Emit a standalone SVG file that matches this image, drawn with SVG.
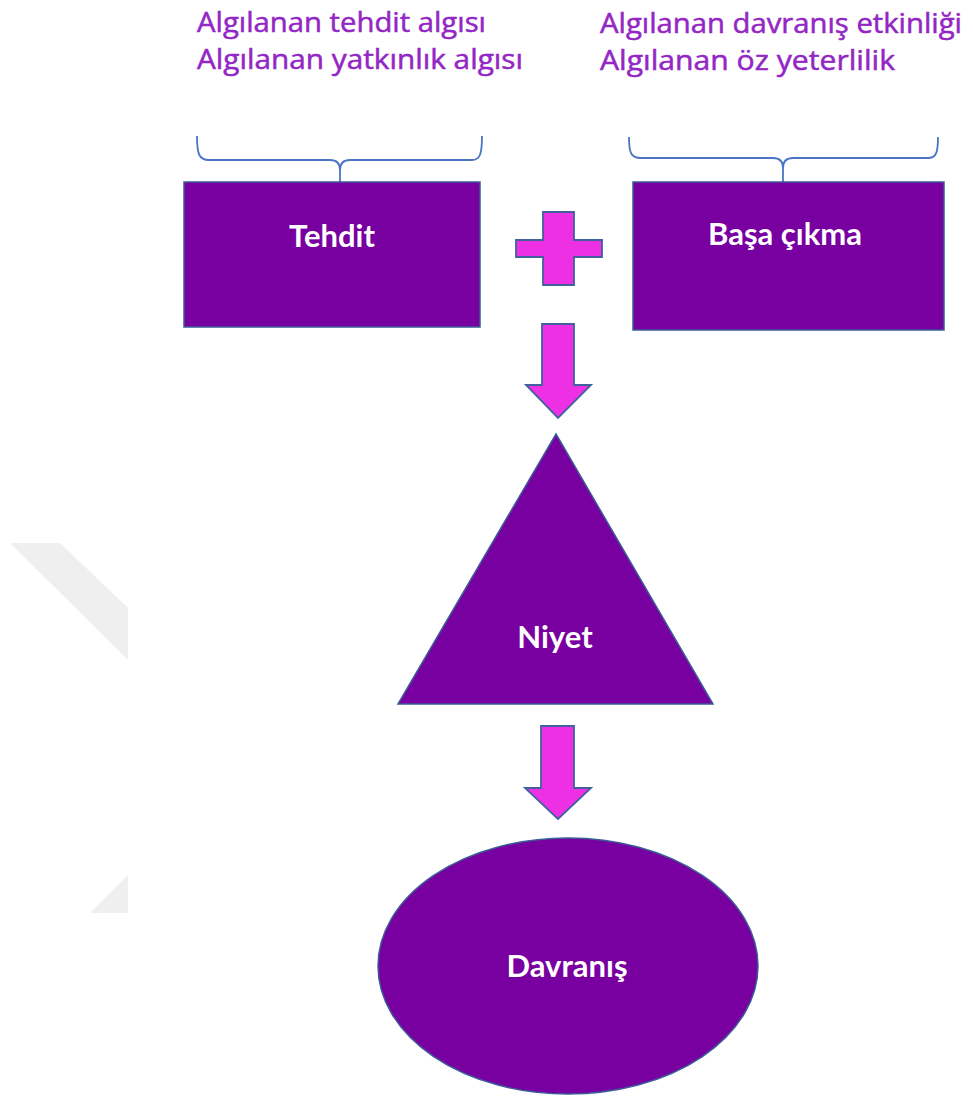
<svg xmlns="http://www.w3.org/2000/svg" width="973" height="1097" viewBox="0 0 973 1097">
  <style>
    .node { fill: #7800a0; stroke: #3c5a96; stroke-width: 1.5; }
    .label { fill: #ffffff; font-family: Lato, "Open Sans", "Liberation Sans", sans-serif; font-weight: bold; font-size: 31px; text-anchor: middle; }
    .attr { fill: #9326c4; stroke: #9326c4; stroke-width: 0.5; font-family: "Open Sans", "Liberation Sans", sans-serif; font-size: 27px; }
    .pink { fill: #ee30e4; stroke: #41609e; stroke-width: 1.8; stroke-linejoin: miter; }
    .brace { fill: none; stroke: #4a74c6; stroke-width: 1.8; }
    .wm { fill: #efefef; }
  </style>
  <rect width="973" height="1097" fill="#ffffff"/>
  <g id="watermark">
    <polygon class="wm" points="10,543 60,543 128,608 128,660"/>
    <polygon class="wm" points="90,913 128,875 128,913"/>
  </g>
  <g id="attributes-left">
    <text class="attr" x="197" y="32" textLength="289" lengthAdjust="spacingAndGlyphs">Algılanan tehdit algısı</text>
    <text class="attr" x="197" y="69" textLength="326" lengthAdjust="spacingAndGlyphs">Algılanan yatkınlık algısı</text>
  </g>
  <g id="attributes-right">
    <text class="attr" x="600" y="33" textLength="362" lengthAdjust="spacingAndGlyphs">Algılanan davranış etkinliği</text>
    <text class="attr" x="600" y="70" textLength="295" lengthAdjust="spacingAndGlyphs">Algılanan öz yeterlilik</text>
  </g>
  <g id="connectors">
    <path class="brace" d="M197,136 C197,154 199,160 209,160 L330,160 C337,160 340,163 340,170 C340,163 343,160 350,160 L472,160 C480,160 482,154 482,136 M340,168 L340,182"/>
    <path class="brace" d="M629,137 C629,153 631,158 641,158 L773,158 C780,158 783,161 783,168 C783,161 786,158 793,158 L928,158 C936,158 938,153 938,137 M783,166 L783,182"/>
    <polygon class="pink" points="542,324 574,324 574,385 591,385 558,418 526,385 542,385"/>
    <polygon class="pink" points="541,726 574,726 574,788 591,788 558,819 525,788 541,788"/>
  </g>
  <g id="tehdit">
    <rect class="node" x="184" y="182" width="296" height="145"/>
    <text class="label" x="332" y="247">Tehdit</text>
  </g>
  <g id="plus">
    <polygon class="pink" points="543,212 574,212 574,240 602,240 602,257 574,257 574,285 543,285 543,257 516,257 516,240 543,240"/>
  </g>
  <g id="basa-cikma">
    <rect class="node" x="633" y="182" width="311" height="148"/>
    <text class="label" x="785" y="245">Başa çıkma</text>
  </g>
  <g id="niyet">
    <polygon class="node" points="556,434 713,704 398,704"/>
    <text class="label" x="555" y="648">Niyet</text>
  </g>
  <g id="davranis">
    <ellipse class="node" cx="568" cy="966" rx="190" ry="128"/>
    <text class="label" x="567" y="977">Davranış</text>
  </g>
</svg>
